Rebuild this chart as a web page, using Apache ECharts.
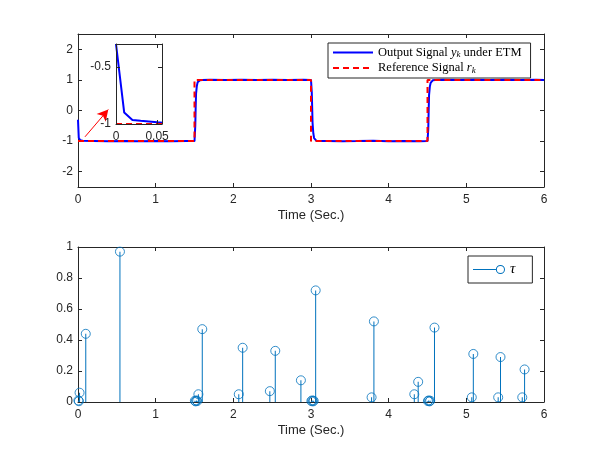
<!DOCTYPE html>
<html>
<head>
<meta charset="utf-8">
<script src="https://cdn.jsdelivr.net/npm/echarts@6/dist/echarts.min.js"></script>
<style>
  html, body { margin: 0; padding: 0; background: #fff; }
  #chart { width: 602px; height: 452px; }
</style>
</head>
<body>
<div id="chart"></div>
<script>
// output signal y_k (time, value)
const outTime = [0, 0.01, 0.02, 0.03, 0.04, 0.05, 0.06, 0.2, 0.4, 0.6, 0.8, 1.0, 1.2, 1.4, 1.5,
  1.505, 1.51, 1.515, 1.52, 1.53, 1.54, 1.55, 1.57, 1.6, 1.7, 1.9, 2.1, 2.3, 2.5, 2.7, 2.9, 3.0,
  3.005, 3.01, 3.015, 3.02, 3.03, 3.04, 3.05, 3.07, 3.1, 3.2, 3.4, 3.6, 3.8, 4.0, 4.2, 4.4, 4.5,
  4.505, 4.51, 4.515, 4.52, 4.53, 4.54, 4.55, 4.57, 4.6, 4.7, 4.9, 5.1, 5.3, 5.5, 5.7, 5.9, 6.0];
const outValue = [-0.3, -0.9, -0.965, -0.972, -0.978, -0.985, -0.99, -0.996, -1.004, -0.997, -1.002, -0.998, -1.003, -0.997, -1.0,
  -0.98, -0.5, 0.1, 0.55, 0.8, 0.92, 0.97, 0.99, 1.0, 1.003, 0.997, 1.004, 0.998, 1.002, 0.996, 1.003, 1.0,
  0.98, 0.6, 0.1, -0.4, -0.75, -0.9, -0.96, -0.99, -1.0, -0.997, -1.003, -0.998, -0.99, -1.002, -0.997, -1.004, -1.0,
  -0.98, -0.6, 0.0, 0.5, 0.78, 0.9, 0.96, 0.99, 1.0, 1.004, 0.996, 1.003, 0.998, 1.005, 0.997, 1.002, 1.0];

// reference signal r_k
const refTime = [0, 1.5, 1.5, 3, 3, 4.5, 4.5, 6];
const refValue = [-1, -1, 1, 1, -1, -1, 1, 1];

// triggering intervals tau
const tauTime = [0.005, 0.012, 0.02, 0.1, 0.54, 1.505, 1.515, 1.525, 1.535, 1.55, 1.6, 2.07, 2.12,
  2.47, 2.54, 2.87, 3.005, 3.015, 3.025, 3.035, 3.06, 3.78, 3.81, 4.33, 4.38, 4.505, 4.515, 4.525,
  4.535, 4.59, 5.07, 5.09, 5.41, 5.44, 5.72, 5.75];
const tauValue = [0.01, 0.005, 0.06, 0.44, 0.97, 0.008, 0.004, 0.01, 0.006, 0.05, 0.47, 0.05, 0.35,
  0.07, 0.33, 0.14, 0.006, 0.01, 0.004, 0.008, 0.72, 0.03, 0.52, 0.05, 0.13, 0.006, 0.01, 0.004,
  0.008, 0.48, 0.03, 0.31, 0.03, 0.29, 0.03, 0.21];

const zip = (a, b) => a.map((v, i) => [v, b[i]]);

const AX = '#262626';
const FONT = 'Liberation Sans';
const SERIF = 'Liberation Serif';

function xAxes(grid, min, max, interval, name, z) {
  const tick = { show: true, inside: true, length: 4, lineStyle: { color: AX, width: 1 } };
  const line = { show: true, onZero: false, lineStyle: { color: AX, width: 1 } };
  return [
    {
      type: 'value', gridIndex: grid, min, max, interval, position: 'bottom', z,
      axisLine: line, axisTick: tick, splitLine: { show: false },
      axisLabel: { color: AX, fontFamily: FONT, fontSize: 12, margin: 7, showMaxLabel: max % interval === 0 },
      name, nameLocation: 'middle', nameGap: 22,
      nameTextStyle: { color: AX, fontFamily: FONT, fontSize: 13 }
    },
    {
      type: 'value', gridIndex: grid, min, max, interval, position: 'top', z,
      axisLine: line, axisTick: tick, splitLine: { show: false }, axisLabel: { show: false }
    }
  ];
}

function yAxes(grid, min, max, interval, fmt, z, showMax) {
  const tick = { show: true, inside: true, length: 4, lineStyle: { color: AX, width: 1 } };
  const line = { show: true, onZero: false, lineStyle: { color: AX, width: 1 } };
  const base = { type: 'value', gridIndex: grid, min, max, z, splitLine: { show: false } };
  if (interval) base.interval = interval; else base.splitNumber = 5;
  return [
    Object.assign({}, base, {
      position: 'left', axisLine: line, axisTick: tick,
      axisLabel: { color: AX, fontFamily: FONT, fontSize: 12, margin: 5, formatter: fmt, showMaxLabel: showMax !== false }
    }),
    Object.assign({}, base, {
      position: 'right', axisLine: line, axisTick: tick, axisLabel: { show: false }
    })
  ];
}

const intOnly = v => (Number.isInteger(v) ? String(v) : '');
const hideSymbol = { color: 'rgba(0,0,0,0)', borderColor: 'rgba(0,0,0,0)', borderWidth: 0 };

const chart = echarts.init(document.getElementById('chart'));
chart.setOption({
  backgroundColor: '#fff',
  animation: false,
  grid: [
    { left: 78, right: 58, top: 34, height: 153 },
    { left: 78, right: 58, top: 247, height: 155 },
    { left: 116, width: 46, top: 44, height: 80, show: true, backgroundColor: '#fff', borderWidth: 0, z: 5 }
  ],
  xAxis: [
    ...xAxes(0, 0, 6, 1, 'Time (Sec.)', 0),
    ...xAxes(1, 0, 6, 1, 'Time (Sec.)', 0),
    ...xAxes(2, 0, 0.056, 0.05, '', 8)
  ],
  yAxis: [
    ...yAxes(0, -2.5, 2.5, null, intOnly, 0),
    ...yAxes(1, 0, 1, 0.2, undefined, 0),
    ...yAxes(2, -1, -0.3, 0.5, undefined, 8, false)
  ],
  legend: [
    {
      data: [
        { name: 'out', itemStyle: hideSymbol },
        { name: 'ref', itemStyle: hideSymbol }
      ],
      orient: 'vertical', left: 328, top: 43,
      itemWidth: 40, itemHeight: 10, itemGap: 2,
      padding: [3, 9, 3, 4],
      borderColor: AX, borderWidth: 1, borderRadius: 0, backgroundColor: '#fff',
      formatter: name => name === 'out'
        ? '{n|Output Signal }{i|y}{s|k}{n| under ETM}'
        : '{n|Reference Signal }{i|r}{s|k}',
      textStyle: {
        color: '#000',
        rich: {
          n: { fontFamily: SERIF, fontSize: 12.5, color: '#000' },
          i: { fontFamily: SERIF, fontSize: 12.5, fontStyle: 'italic', color: '#000' },
          s: { fontFamily: SERIF, fontSize: 9, fontStyle: 'italic', color: '#000', padding: [5, 0, 0, 0] }
        }
      }
    },
    {
      data: [{
        name: 'tau',
        icon: 'path://M0 4.5H22.5V5.5H0Z M27 0.5A4.5 4.5 0 1 1 26.99 0.5Z M27 1.5A3.5 3.5 0 1 0 27.01 1.5Z',
        itemStyle: { color: '#0072BD', borderWidth: 0 }
      }],
      left: 468, top: 256,
      itemWidth: 32, itemHeight: 10,
      padding: [6, 17, 6, 5],
      borderColor: AX, borderWidth: 1, borderRadius: 0, backgroundColor: '#fff',
      formatter: () => '{i|τ}',
      textStyle: { rich: { i: { fontFamily: SERIF, fontSize: 15, fontStyle: 'italic', color: '#000' } } }
    }
  ],
  series: [
    {
      name: 'out', type: 'line', xAxisIndex: 0, yAxisIndex: 0,
      data: zip(outTime, outValue), symbol: 'none',
      lineStyle: { color: '#0000FF', width: 2 }, itemStyle: { color: '#0000FF' }
    },
    {
      name: 'ref', type: 'line', xAxisIndex: 0, yAxisIndex: 0,
      data: zip(refTime, refValue), symbol: 'none',
      lineStyle: { color: '#FF0000', width: 2, type: [6, 4] }, itemStyle: { color: '#FF0000' },
      markLine: {
        silent: true, animation: false,
        symbol: ['none', 'arrow'], symbolSize: [9, 11],
        label: { show: false },
        lineStyle: { color: '#FF0000', width: 1, type: 'solid' },
        data: [[{ coord: [0.09, -0.86] }, { coord: [0.39, 0.03] }]]
      }
    },
    {
      name: 'outZoom', type: 'line', xAxisIndex: 4, yAxisIndex: 4, z: 6,
      data: zip(outTime, outValue), symbol: 'none', clip: true,
      lineStyle: { color: '#0000FF', width: 2 }
    },
    {
      name: 'refZoom', type: 'line', xAxisIndex: 4, yAxisIndex: 4, z: 6,
      data: zip(refTime, refValue), symbol: 'none', clip: true,
      lineStyle: { color: '#FF0000', width: 2, type: [6, 4] }
    },
    {
      name: 'stem', type: 'bar', xAxisIndex: 2, yAxisIndex: 2,
      data: zip(tauTime, tauValue), barWidth: 1,
      itemStyle: { color: '#0072BD' }
    },
    {
      name: 'tauMark', type: 'scatter', xAxisIndex: 2, yAxisIndex: 2, z: 3,
      data: zip(tauTime, tauValue), symbol: 'circle', symbolSize: 9,
      itemStyle: { color: 'rgba(0,0,0,0)', borderColor: '#0072BD', borderWidth: 1 }
    },
    {
      name: 'tau', type: 'line', xAxisIndex: 2, yAxisIndex: 2, data: [],
      lineStyle: { color: '#0072BD', width: 1 }, itemStyle: { color: '#0072BD' }
    }
  ]
});
</script>
</body>
</html>
